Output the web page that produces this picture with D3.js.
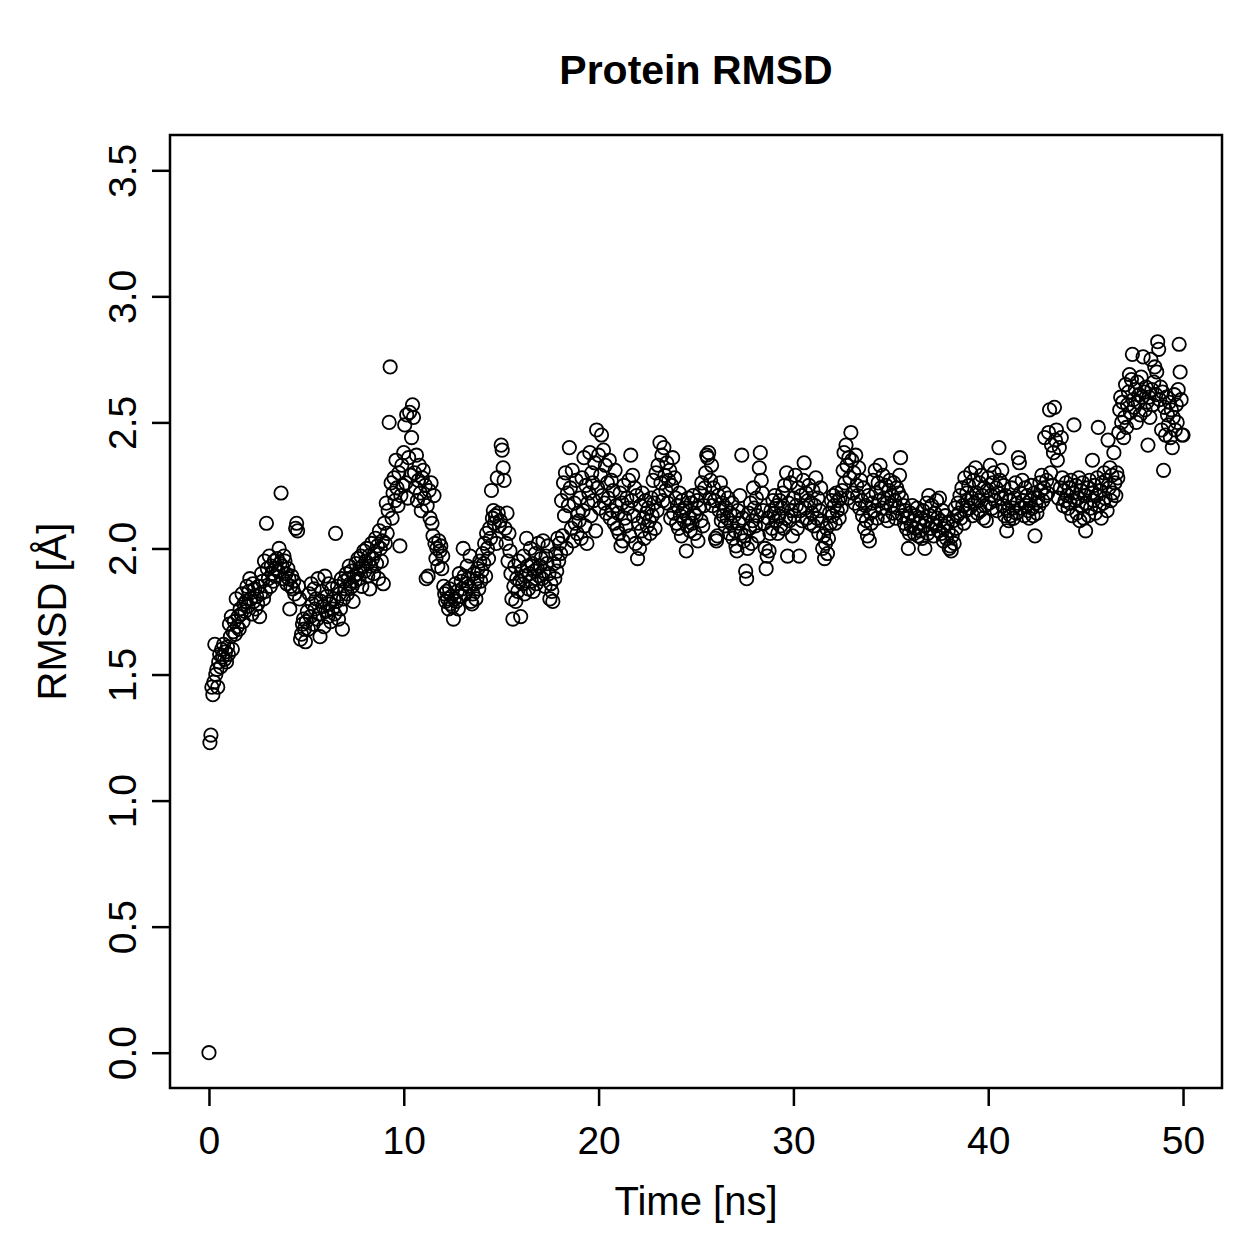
<!DOCTYPE html>
<html>
<head>
<meta charset="utf-8">
<script src="https://cdn.jsdelivr.net/npm/d3@7"></script>
<style>
  body { margin: 0; background: #fff; }
  text { font-family: "Liberation Sans", Arial, Helvetica, sans-serif; fill: #000; }
</style>
</head>
<body>
<div id="chart"></div>
<script>
// RMSD values, one frame every 0.05 ns
const timeStep = 0.05;

const rmsd0to10 = [
  0.00,1.23,1.26,1.45,1.42,1.47,1.62,1.50,1.52,1.45,
  1.55,1.58,1.53,1.60,1.57,1.62,1.56,1.59,1.55,1.61,
  1.58,1.70,1.65,1.73,1.60,1.67,1.71,1.66,1.80,1.69,
  1.73,1.68,1.76,1.74,1.82,1.71,1.78,1.75,1.79,1.85,
  1.77,1.83,1.88,1.80,1.74,1.86,1.79,1.84,1.76,1.81,
  1.78,1.85,1.73,1.82,1.90,1.87,1.80,1.95,1.83,2.10,
  1.92,1.88,1.97,1.85,1.93,1.90,1.87,1.95,1.89,1.92,
  1.96,1.91,2.00,1.94,2.22,1.93,1.88,1.97,1.95,1.90,
  1.86,1.92,1.88,1.76,1.85,1.89,1.84,1.87,1.82,2.08,
  2.10,2.07,1.85,1.80,1.64,1.66,1.70,1.72,1.68,1.63,
  1.71,1.75,1.68,1.82,1.73,1.86,1.78,1.70,1.84,1.76,
  1.80,1.72,1.88,1.74,1.65,1.79,1.83,1.77,1.69,1.89,
  1.75,1.81,1.73,1.86,1.78,1.71,1.84,1.76,1.80,1.74,
  2.06,1.79,1.85,1.72,1.82,1.76,1.88,1.68,1.80,1.87,
  1.84,1.90,1.82,1.88,1.93,1.86,1.91,1.85,1.79,1.89,
  1.87,1.94,1.90,1.96,1.88,1.92,1.97,1.85,1.93,1.99,
  1.91,1.95,2.00,1.89,1.97,1.84,1.93,2.02,1.96,1.90,
  1.98,2.04,1.94,2.01,1.88,2.07,2.00,1.95,2.03,1.86,
  2.10,2.02,2.18,2.06,2.15,2.50,2.72,2.26,2.12,2.22,
  2.28,2.19,2.35,2.24,2.17,2.30,2.01,2.21,2.33,2.25
];

const rmsd10to20 = [
  2.38,2.49,2.26,2.53,2.20,2.36,2.54,2.29,2.44,2.57,
  2.52,2.30,2.24,2.37,2.19,2.27,2.33,2.22,2.15,2.28,
  2.31,2.20,2.25,1.88,2.17,1.89,2.23,2.12,2.26,2.10,
  2.05,2.21,2.02,1.96,2.00,1.93,2.03,1.99,2.01,1.92,
  1.97,1.85,1.82,1.79,1.83,1.80,1.76,1.84,1.78,1.81,
  1.77,1.72,1.80,1.86,1.79,1.83,1.76,1.90,1.81,1.87,
  1.84,2.00,1.89,1.82,1.86,1.93,1.88,1.85,1.97,1.79,
  1.78,1.82,1.90,1.86,1.80,1.88,1.92,1.84,1.95,1.87,
  1.91,1.98,1.94,2.02,1.89,2.06,2.00,1.96,2.08,2.04,
  2.23,2.12,2.15,2.10,2.13,2.02,2.28,2.14,2.09,2.11,
  2.41,2.39,2.32,2.27,2.08,2.02,2.14,1.95,2.06,1.99,
  1.90,1.80,1.72,1.85,1.93,1.79,1.88,1.83,1.95,1.87,
  1.73,1.91,1.86,1.97,1.82,1.89,2.04,1.93,1.84,1.90,
  2.00,1.87,1.94,1.83,1.91,1.98,1.86,1.92,2.02,1.89,
  1.93,1.96,1.88,2.03,1.91,1.85,1.97,1.94,2.01,1.90,
  1.80,1.86,1.83,1.79,1.94,1.88,1.98,1.91,2.04,1.95,
  2.02,1.98,2.19,2.05,2.26,2.13,2.30,2.00,2.22,2.17,
  2.40,2.24,2.08,2.31,2.03,2.18,2.10,2.27,2.06,2.14,
  2.11,2.20,2.04,2.28,2.15,2.36,2.09,2.25,2.02,2.18,
  2.22,2.38,2.13,2.30,2.26,2.19,2.34,2.07,2.47,2.24
];

const rmsd20to30 = [
  2.37,2.16,2.29,2.45,2.21,2.39,2.18,2.33,2.14,2.26,
  2.20,2.35,2.12,2.27,2.15,2.23,2.10,2.31,2.17,2.08,
  2.14,2.06,2.22,2.01,2.18,2.03,2.25,2.12,2.09,2.20,
  2.16,2.27,2.05,2.37,2.19,2.29,2.13,2.24,2.02,2.21,
  1.96,2.10,2.00,2.17,2.07,2.22,2.12,2.04,2.19,2.14,
  2.09,2.16,2.11,2.06,2.20,2.13,2.27,2.18,2.08,2.30,
  2.15,2.33,2.21,2.42,2.26,2.37,2.19,2.40,2.29,2.23,
  2.34,2.18,2.27,2.31,2.12,2.25,2.36,2.14,2.28,2.20,
  2.10,2.17,2.08,2.22,2.13,2.05,2.19,2.15,2.11,2.16,
  1.99,2.09,2.20,2.12,2.07,2.18,2.10,2.21,2.14,2.06,
  2.13,2.19,2.03,2.16,2.22,2.11,2.26,2.09,2.17,2.24,
  2.30,2.37,2.36,2.38,2.20,2.27,2.33,2.17,2.24,2.19,
  2.04,2.03,2.05,2.21,2.15,2.26,2.11,2.18,2.13,2.22,
  2.09,2.16,2.12,2.20,2.06,2.14,2.10,2.18,2.04,2.13,
  2.07,2.01,1.99,2.15,2.10,2.21,2.06,2.37,2.12,2.03,
  2.05,1.91,1.88,2.00,2.14,2.08,2.18,2.02,2.11,2.24,
  2.16,2.09,2.20,2.13,2.05,2.32,2.38,2.27,2.22,2.15,
  2.10,2.00,1.92,1.97,2.12,1.99,2.06,2.15,2.08,2.19,
  2.14,2.21,2.11,2.17,2.06,2.13,2.19,2.09,2.16,2.22,
  2.08,2.25,2.12,2.30,1.97,2.18,2.11,2.26,2.15,2.05
];

const rmsd30to40 = [
  2.20,2.13,2.29,2.17,2.08,2.24,1.97,2.15,2.21,2.11,
  2.27,2.34,2.16,2.22,2.12,2.19,2.25,2.10,2.18,2.14,
  2.23,2.09,2.17,2.28,2.12,2.20,2.06,2.15,2.24,2.11,
  2.00,2.05,1.96,2.02,2.08,1.98,2.04,2.14,2.10,2.19,
  2.13,2.21,2.17,2.10,2.22,2.15,2.19,2.12,2.20,2.16,
  2.23,2.31,2.38,2.26,2.41,2.33,2.20,2.36,2.28,2.46,
  2.35,2.22,2.30,2.18,2.37,2.25,2.21,2.32,2.16,2.27,
  2.19,2.13,2.24,2.08,2.17,2.11,2.05,2.21,2.03,2.14,
  2.10,2.18,2.27,2.15,2.31,2.22,2.12,2.26,2.19,2.33,
  2.24,2.16,2.29,2.20,2.13,2.25,2.18,2.11,2.23,2.27,
  2.17,2.21,2.14,2.26,2.19,2.12,2.24,2.16,2.22,2.29,
  2.36,2.20,2.13,2.17,2.10,2.15,2.08,2.12,2.00,2.06,
  2.14,2.09,2.17,2.11,2.06,2.13,2.08,2.16,2.05,2.10,
  2.07,2.12,2.04,2.15,2.09,2.00,2.11,2.18,2.06,2.21,
  2.13,2.08,2.17,2.10,2.05,2.14,2.09,2.19,2.12,2.07,
  2.20,2.11,2.06,2.15,2.03,2.09,2.13,2.04,2.10,2.07,
  2.00,2.01,1.99,2.05,2.11,2.02,2.16,2.08,2.13,2.18,
  2.14,2.21,2.12,2.24,2.17,2.10,2.28,2.15,2.22,2.19,
  2.25,2.16,2.30,2.20,2.13,2.27,2.18,2.32,2.22,2.14,
  2.19,2.26,2.15,2.29,2.21,2.12,2.24,2.17,2.11,2.23
];

const rmsd40to50 = [
  2.28,2.18,2.33,2.21,2.16,2.26,2.30,2.19,2.24,2.15,
  2.22,2.40,2.27,2.20,2.31,2.17,2.25,2.13,2.21,2.07,
  2.15,2.11,2.19,2.13,2.24,2.16,2.12,2.20,2.26,2.14,
  2.18,2.36,2.34,2.22,2.16,2.27,2.19,2.13,2.24,2.17,
  2.21,2.15,2.12,2.19,2.25,2.16,2.13,2.22,2.05,2.18,
  2.14,2.20,2.17,2.26,2.23,2.29,2.19,2.24,2.44,2.21,
  2.27,2.22,2.46,2.55,2.30,2.41,2.25,2.38,2.56,2.43,
  2.47,2.35,2.20,2.40,2.24,2.44,2.28,2.17,2.23,2.19,
  2.26,2.21,2.16,2.24,2.18,2.27,2.13,2.22,2.49,2.19,
  2.25,2.14,2.20,2.28,2.11,2.23,2.17,2.26,2.12,2.21,
  2.07,2.18,2.24,2.13,2.27,2.16,2.22,2.35,2.19,2.25,
  2.14,2.21,2.28,2.48,2.17,2.23,2.12,2.26,2.18,2.30,
  2.20,2.27,2.15,2.43,2.24,2.32,2.19,2.29,2.22,2.38,
  2.26,2.21,2.30,2.28,2.46,2.55,2.60,2.50,2.58,2.44,
  2.52,2.65,2.48,2.57,2.62,2.69,2.54,2.67,2.77,2.59,
  2.56,2.63,2.50,2.66,2.58,2.61,2.53,2.68,2.60,2.76,
  2.62,2.55,2.64,2.58,2.41,2.60,2.52,2.75,2.63,2.57,
  2.66,2.72,2.61,2.70,2.82,2.79,2.59,2.64,2.47,2.62,
  2.31,2.56,2.45,2.60,2.53,2.49,2.58,2.44,2.55,2.40,
  2.52,2.61,2.47,2.57,2.50,2.63,2.81,2.70,2.59,2.45,
  2.45
];

const xTicks = [0, 10, 20, 30, 40, 50];
const yTicks = [0, 0.5, 1.0, 1.5, 2.0, 2.5, 3.0, 3.5];

const rmsd = [].concat(rmsd0to10, rmsd10to20, rmsd20to30, rmsd30to40, rmsd40to50);
const data = rmsd.map((v, i) => ({ t: i * timeStep, v: v }));

// Plot region (R base graphics style box)
const W = 1259, H = 1259;
const plot = { left: 170, right: 1222, top: 135, bottom: 1088 };

const svg = d3.select("#chart")
    .append("svg")
    .attr("width", W)
    .attr("height", H);

svg.append("rect").attr("width", W).attr("height", H).attr("fill", "#fff");

// R pads the limits by 4%
const xScale = d3.scaleLinear()
    .domain([-2, 52])
    .range([plot.left, plot.right]);

const yScale = d3.scaleLinear()
    .domain([-0.14, 3.64])
    .range([plot.bottom, plot.top]);

// Points
svg.append("g")
    .selectAll("circle")
    .data(data)
    .enter()
    .append("circle")
    .attr("cx", d => xScale(d.t))
    .attr("cy", d => yScale(d.v))
    .attr("r", 6.7)
    .attr("fill", "none")
    .attr("stroke", "#000")
    .attr("stroke-width", 1.8);

// x axis
const xAxis = d3.axisBottom(xScale)
    .tickValues(xTicks)
    .tickSize(18)
    .tickPadding(20)
    .tickFormat(d3.format("d"));

const gx = svg.append("g")
    .attr("transform", `translate(0,${plot.bottom})`)
    .call(xAxis);
gx.select(".domain").remove();
gx.selectAll("line").attr("stroke", "#000").attr("stroke-width", 2.5);
gx.selectAll("text").style("font-size", "39px").attr("fill", "#000");

// y axis, labels turned like R's las=0
const yAxis = d3.axisLeft(yScale)
    .tickValues(yTicks)
    .tickSize(18)
    .tickFormat(d3.format(".1f"));

const gy = svg.append("g")
    .attr("transform", `translate(${plot.left},0)`)
    .call(yAxis);
gy.select(".domain").remove();
gy.selectAll("line").attr("stroke", "#000").attr("stroke-width", 2.5);
gy.selectAll("text")
    .attr("x", null)
    .attr("dy", null)
    .attr("transform", "translate(-34,0) rotate(-90)")
    .style("text-anchor", "middle")
    .style("font-size", "39px")
    .attr("fill", "#000");

// Box
svg.append("rect")
    .attr("x", plot.left)
    .attr("y", plot.top)
    .attr("width", plot.right - plot.left)
    .attr("height", plot.bottom - plot.top)
    .attr("fill", "none")
    .attr("stroke", "#000")
    .attr("stroke-width", 2.5);

// Title and axis labels
const cx = (plot.left + plot.right) / 2;
const cy = (plot.top + plot.bottom) / 2;

svg.append("text")
    .attr("x", cx)
    .attr("y", 84)
    .style("text-anchor", "middle")
    .style("font-size", "41px")
    .style("font-weight", "bold")
    .text("Protein RMSD");

svg.append("text")
    .attr("x", cx)
    .attr("y", 1215)
    .style("text-anchor", "middle")
    .style("font-size", "40px")
    .text("Time [ns]");

svg.append("text")
    .attr("transform", `translate(66,${cy}) rotate(-90)`)
    .style("text-anchor", "middle")
    .style("font-size", "40px")
    .text("RMSD [Å]");
</script>
</body>
</html>
